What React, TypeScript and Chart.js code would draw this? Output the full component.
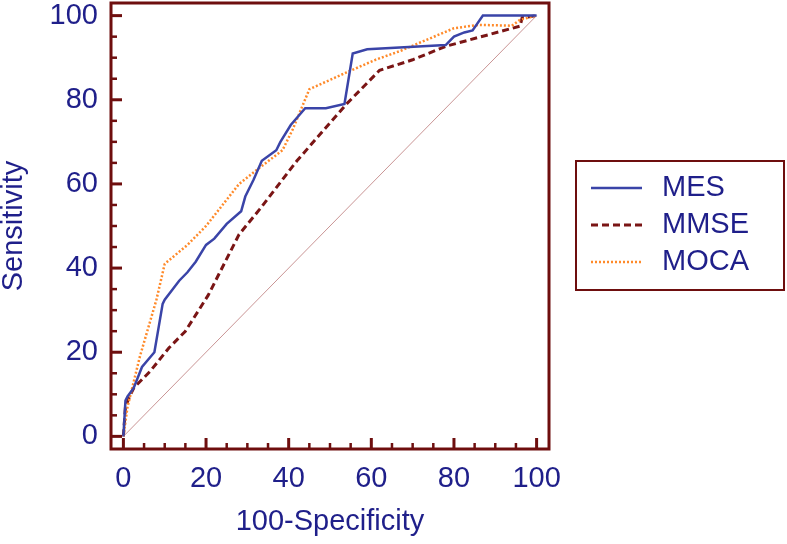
import React, { useEffect, useRef } from "react";
import { Chart, registerables } from "chart.js";

Chart.register(...registerables);

// ---- data ----
const mesX = [0, 0.5, 1, 2.5, 4.5, 7.5, 9.5, 10, 13.5, 15.5, 17.5, 20, 22, 25, 28.5, 29.5, 31.5, 33.5, 37, 38, 40.5, 44, 49, 53.5, 55.5, 59, 78, 80, 82.5, 84.5, 87, 100];
const mesY = [0, 8.5, 9.5, 11.5, 16.5, 20, 31.5, 32.5, 37, 39, 41.5, 45.5, 47, 50.5, 53.5, 57, 61, 65.5, 68, 70, 74, 78, 78, 79, 91, 92, 93, 95, 96, 96.5, 100, 100];

const mmseX = [0, 0.5, 1.5, 2.5, 6.5, 11, 15, 20.5, 28, 33, 42, 54, 62, 70, 78, 96, 96.5, 100];
const mmseY = [0, 7, 9.5, 11.5, 15.5, 21, 25, 33.5, 48, 54, 65.5, 79, 87, 89.5, 92.7, 97.5, 99.5, 100];

const mocaX = [0, 1, 2, 4, 8, 10, 15.5, 20, 28, 32.5, 38.5, 41, 45, 54, 61, 67, 80, 86, 94, 96, 100];
const mocaY = [0, 7, 11, 19, 32.5, 41, 45.5, 50, 60, 63.5, 68, 73, 82.5, 86.5, 89.5, 91.6, 97, 97.8, 97.6, 99, 100];

const refX = [0, 100];
const refY = [0, 100];

const seriesNames = ["MES", "MMSE", "MOCA"];
const majorTicks = [0, 20, 40, 60, 80, 100];
const minorTicks = [5, 10, 15, 25, 30, 35, 45, 50, 55, 65, 70, 75, 85, 90, 95];
const axisMin = -3;
const axisMax = 103;
const xTitle = "100-Specificity";
const yTitle = "Sensitivity";

// ---- styles ----
const FRAME = "#6e0e0e";
const TEXT = "#1f1f8a";
const FONT = "'Liberation Sans', Arial, sans-serif";
const COL_MES = "#3a44a8";
const COL_MMSE = "#7a1515";
const COL_MOCA = "#ff8a2a";
const COL_REF = "#c99494";

const pts = (xs: number[], ys: number[]) => xs.map((x, i) => ({ x, y: ys[i] }));

const framePlugin = {
  id: "frameTicks",
  afterDraw(chart: any) {
    const { ctx, chartArea: a, scales } = chart;
    const xs = scales.x;
    const ys = scales.y;
    ctx.save();
    ctx.strokeStyle = FRAME;
    ctx.lineCap = "butt";
    const drawTick = (v: number, len: number, w: number) => {
      ctx.lineWidth = w;
      const py = ys.getPixelForValue(v);
      ctx.beginPath();
      ctx.moveTo(a.left, py);
      ctx.lineTo(a.left + len, py);
      ctx.stroke();
      const px = xs.getPixelForValue(v);
      ctx.beginPath();
      ctx.moveTo(px, a.bottom);
      ctx.lineTo(px, a.bottom - len);
      ctx.stroke();
    };
    majorTicks.forEach((v) => drawTick(v, 11, 3));
    minorTicks.forEach((v) => drawTick(v, 6, 2.5));
    ctx.lineWidth = 3;
    ctx.strokeRect(a.left, a.top, a.right - a.left, a.bottom - a.top);

    // legend box
    const lx = a.right + 27;
    const ly = a.top + 158;
    const lw = 208;
    const lh = 129;
    ctx.lineWidth = 2;
    ctx.strokeRect(lx, ly, lw, lh);
    const items = chart.data.datasets.slice(0, 3);
    items.forEach((ds: any, i: number) => {
      const cy = ly + 27 + i * 37;
      ctx.save();
      ctx.strokeStyle = ds.borderColor;
      ctx.lineWidth = ds.borderWidth;
      ctx.setLineDash(ds.borderDash || []);
      ctx.beginPath();
      ctx.moveTo(lx + 15, cy);
      ctx.lineTo(lx + 66, cy);
      ctx.stroke();
      ctx.restore();
      ctx.fillStyle = TEXT;
      ctx.font = `29px ${FONT}`;
      ctx.textBaseline = "middle";
      ctx.textAlign = "left";
      ctx.fillText(ds.label, lx + 86, cy);
    });
    ctx.restore();
  },
};

export default function App() {
  const ref = useRef<HTMLCanvasElement | null>(null);
  useEffect(() => {
    if (!ref.current) return;
    const chart = new Chart(ref.current, {
      type: "line",
      data: {
        datasets: [
          {
            label: seriesNames[0],
            data: pts(mesX, mesY),
            borderColor: COL_MES,
            borderWidth: 2.5,
            borderDash: [],
            pointRadius: 0,
            tension: 0,
            order: 1,
          },
          {
            label: seriesNames[1],
            data: pts(mmseX, mmseY),
            borderColor: COL_MMSE,
            borderWidth: 3,
            borderDash: [7, 4],
            pointRadius: 0,
            tension: 0,
            order: 3,
          },
          {
            label: seriesNames[2],
            data: pts(mocaX, mocaY),
            borderColor: COL_MOCA,
            borderWidth: 2.5,
            borderDash: [2, 2],
            pointRadius: 0,
            tension: 0,
            order: 2,
          },
          {
            label: "ref",
            data: pts(refX, refY),
            borderColor: COL_REF,
            borderWidth: 1,
            pointRadius: 0,
            tension: 0,
            order: 4,
          },
        ] as any,
      },
      options: {
        animation: false,
        responsive: false,
        maintainAspectRatio: false,
        layout: { padding: { top: 3, right: 238, left: 0, bottom: 0 } },
        plugins: { legend: { display: false }, tooltip: { enabled: false } },
        scales: {
          x: {
            type: "linear",
            min: axisMin,
            max: axisMax,
            grid: { display: false, drawTicks: false },
            border: { display: false },
            afterBuildTicks: (s: any) => {
              s.ticks = majorTicks.map((v) => ({ value: v }));
            },
            afterFit: (s: any) => {
              s.height = 95;
              s.paddingLeft = 0;
              s.paddingRight = 0;
            },
            ticks: {
              color: TEXT,
              font: { family: FONT, size: 29 },
              padding: 13,
              maxRotation: 0,
              autoSkip: false,
            },
            title: {
              display: true,
              text: xTitle,
              color: TEXT,
              font: { family: FONT, size: 29, lineHeight: 1 },
              padding: { top: 0, bottom: 8 },
            },
          },
          y: {
            type: "linear",
            min: axisMin,
            max: axisMax,
            grid: { display: false, drawTicks: false },
            border: { display: false },
            afterBuildTicks: (s: any) => {
              s.ticks = majorTicks.map((v) => ({ value: v }));
            },
            afterFit: (s: any) => {
              s.width = 111;
              s.paddingTop = 0;
              s.paddingBottom = 0;
            },
            ticks: {
              color: TEXT,
              font: { family: FONT, size: 29 },
              padding: 13,
              autoSkip: false,
            },
            title: {
              display: true,
              text: yTitle,
              color: TEXT,
              font: { family: FONT, size: 29, lineHeight: 0.8 },
              padding: { top: 2, bottom: 0 },
            },
          },
        },
      } as any,
      plugins: [framePlugin],
    });
    return () => chart.destroy();
  }, []);
  return (
    <div style={{ position: "fixed", left: 0, top: 0, width: 787, height: 544, background: "#fff" }}>
      <canvas ref={ref} width={787} height={544} style={{ width: 787, height: 544, display: "block" }} />
    </div>
  );
}
